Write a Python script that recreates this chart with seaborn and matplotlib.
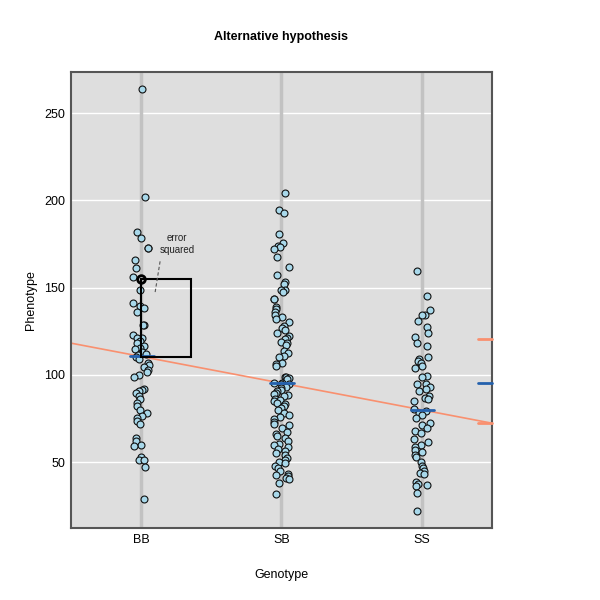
import numpy as np
import pandas as pd
import matplotlib
matplotlib.use("Agg")
import matplotlib.pyplot as plt
import seaborn as sns

genotypes = ["BB", "SB", "SS"]

bb = [263.9, 202, 181.8, 178.5, 172.6, 172.6, 165.8, 161.4, 155.8, 148.8,
      141.3, 139.5, 138, 136, 128.5, 128.3, 123, 121, 121, 119.5, 118, 116.5,
      115.5, 114.5, 113, 112, 111.5, 110, 109, 107, 105.5, 104.5, 103, 101.5,
      100, 99, 92, 91.5, 90.5, 89.5, 88, 86, 84, 82, 80, 78, 76.5, 75, 73.5, 72,
      64, 62, 60, 59, 53, 51, 51, 47, 29]
sb = [204, 194.4, 192.5, 180.5, 175.7, 173.8, 173, 172, 167.7, 162, 157.2, 153,
      151.8, 148.8, 148.5, 147.5, 143.7, 143.5, 139, 137.5, 136, 134, 133, 132,
      130.4, 128, 127, 125.5, 124, 122, 121, 120.5, 119, 118, 117, 113.8, 112.6,
      110.5, 110, 107, 106, 105, 99, 98.5, 98, 97.3, 95.5, 95.3, 95, 94.8, 93,
      92.5, 91.5, 90.5, 89.5, 89, 88.5, 88, 86, 85.5, 85, 84, 83, 82, 81, 80,
      78, 77, 76, 74.5, 73, 72, 71, 69.5, 67.4, 66, 65, 63.5, 62, 60.5, 59.7,
      58.8, 57.5, 56.5, 55, 54, 52.5, 51, 50, 49.5, 48, 46.5, 45, 43, 42.5, 42,
      41, 40, 38, 31.5]
ss = [159.5, 145.3, 137, 134.5, 134, 131, 127.2, 124.2, 121.8, 118.4, 116.5,
      110, 109, 108, 106.5, 105, 104, 99.5, 98.5, 95, 94.5, 93, 92, 90.7, 87.8,
      86.5, 86, 85, 80.4, 79, 78, 77, 75, 72.5, 71, 69.5, 68, 66.6, 63, 61.5,
      60, 58.5, 57, 55.5, 54, 53, 50.2, 47.7, 46.5, 45, 44, 43, 38.7, 37.5, 37,
      36.2, 32.4, 22]

group_means = [111.0, 95.2, 79.6]
reg_intercept = 110.5
reg_slope = -15.3
side_marks_salmon = [120.5, 72.3]
side_mark_blue = [95.3]
highlight_value = 155.0
square_bottom = 110.3

df = pd.DataFrame({
    "Genotype": ["BB"] * len(bb) + ["SB"] * len(sb) + ["SS"] * len(ss),
    "Phenotype": bb + sb + ss,
})

sns.set_style("white")
plt.rcParams["font.family"] = ["Liberation Sans", "DejaVu Sans"]
plt.rcParams["text.color"] = "black"
plt.rcParams["axes.labelcolor"] = "black"

fig = plt.figure(figsize=(6, 6), dpi=100)
ax = fig.add_axes([0.118, 0.12, 0.702, 0.76])
ax.set_facecolor("#dedede")

for y in [50, 100, 150, 200, 250]:
    ax.axhline(y, color="white", lw=1.0, zorder=0)
for i in range(3):
    ax.axvline(i, color="#c2c2c2", lw=2.5, zorder=0.5)

salmon = "#f9906f"
blue = "#2461ad"

xs = np.array([-0.5, 2.5])
ax.plot(xs, reg_intercept + reg_slope * xs, color=salmon, lw=1.2, zorder=1)

np.random.seed(3)
sns.stripplot(data=df, x="Genotype", y="Phenotype", order=genotypes,
              jitter=0.06, size=5, color="#a8d8ea", edgecolor="#111111",
              linewidth=0.8, ax=ax, zorder=2)

for i, m in enumerate(group_means):
    ax.plot([i - 0.08, i + 0.09], [m, m], color=blue, lw=2, zorder=3)

# error squared box
sq_h = highlight_value - square_bottom
ax.add_patch(plt.Rectangle((0, square_bottom), 0.357, sq_h, fill=False,
                           edgecolor="black", lw=1.5, zorder=4))
ax.plot([0], [highlight_value], "o", ms=5.5, mfc="none", mec="black",
        mew=2, zorder=5)
ax.text(0.257, 175, "error\nsquared", ha="center", va="center", fontsize=7,
        linespacing=1.3, color="#222222")
ax.plot([0.136, 0.1], [165, 147], color="#555555", lw=0.8, ls=(0, (3, 2)),
        zorder=4)

for v in side_marks_salmon:
    ax.plot([2.4, 2.5], [v, v], color=salmon, lw=2, clip_on=False, zorder=6)
for v in side_mark_blue:
    ax.plot([2.4, 2.5], [v, v], color=blue, lw=2, clip_on=False, zorder=6)

ax.set_xlim(-0.5, 2.5)
ax.set_ylim(12.2, 273.5)
ax.set_yticks([50, 100, 150, 200, 250])
ax.tick_params(length=0, labelsize=9, pad=4, labelcolor="black")
for s in ax.spines.values():
    s.set_visible(True)
    s.set_color("#555555")
    s.set_linewidth(1.5)

ax.set_title("Alternative hypothesis", fontsize=9, fontweight="bold", pad=23)
ax.set_xlabel("Genotype", fontsize=9, labelpad=17)
ax.set_ylabel("Phenotype", fontsize=9, labelpad=5)

fig.savefig("out.png", dpi=100)
